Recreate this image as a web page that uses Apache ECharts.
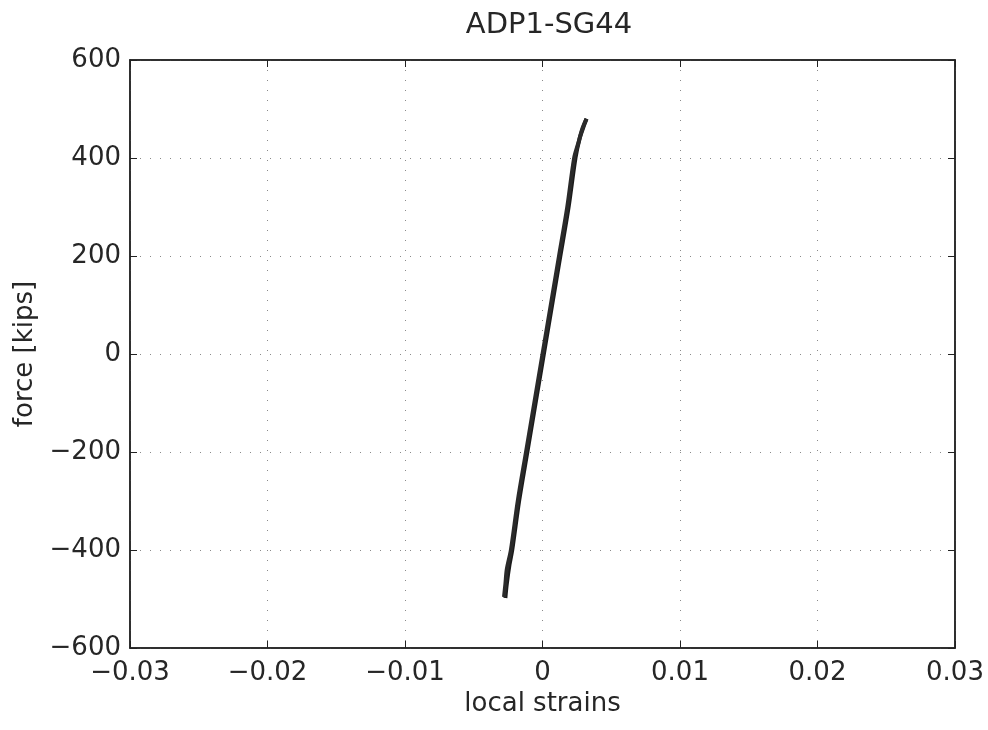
<!DOCTYPE html>
<html>
<head>
<meta charset="utf-8">
<script src="https://cdn.jsdelivr.net/npm/echarts@6/dist/echarts.min.js"></script>
<style>
html,body{margin:0;padding:0;background:#fff;}
#chart{width:988px;height:730px;}
</style>
</head>
<body>
<div id="chart"></div>
<script>
// Force vs. local strain, gauge SG44
const titleText = 'ADP1-SG44';
const xName = 'local strains';
const yName = 'force [kips]';
const xTicks = [-0.03, -0.02, -0.01, 0, 0.01, 0.02, 0.03];
const yTicks = [-600, -400, -200, 0, 200, 400, 600];

// loading branch: [strain, force]
const loadingBranch = [
  [-0.0027, -498], [-0.0026, -470], [-0.0024, -430], [-0.0022, -400],
  [-0.0017, -300], [-0.0011, -200], [-0.0005, -100], [0.0001, 0],
  [0.0007, 100], [0.0013, 200], [0.0019, 300], [0.0024, 400],
  [0.0027, 440], [0.0030, 465], [0.0032, 480]
];
// unloading branch: [strain, force]
const unloadingBranch = [
  [0.0032, 480], [0.0029, 460], [0.0026, 430], [0.0023, 400],
  [0.0018, 300], [0.0012, 200], [0.0006, 100], [0.0000, 0],
  [-0.0006, -100], [-0.0012, -200], [-0.0018, -300], [-0.0023, -400],
  [-0.0026, -440], [-0.0027, -470], [-0.0028, -496]
];

const fontFam = '"DejaVu Sans", "Liberation Sans", Arial, sans-serif';
const fmtNum = v => {
  const s = String(Math.abs(v) < 1e-12 ? 0 : v);
  return s.replace('-', '\u2212');
};

const chart = echarts.init(document.getElementById('chart'));
const dotted = { show: true, lineStyle: { color: '#8a8a8a', type: [1, 9], width: 1 } };
const tickIn = { show: true, inside: true, length: 7, lineStyle: { color: '#222', width: 1 } };
const frameLine = { show: true, onZero: false, lineStyle: { color: '#222', width: 1.5 } };
const textCol = '#262626';

chart.setOption({
  backgroundColor: '#fff',
  animation: false,
  title: {
    text: titleText, left: 544, top: 6, textAlign: 'center',
    textStyle: { fontFamily: fontFam, fontSize: 29, fontWeight: 'normal', color: textCol }
  },
  grid: {
    left: 130, right: 33, top: 60, bottom: 82, show: true,
    borderColor: '#222', borderWidth: 1.5, containLabel: false, outerBoundsMode: 'none'
  },
  xAxis: [{
    type: 'value', min: -0.03, max: 0.03, interval: 0.01,
    name: xName, nameLocation: 'middle', nameGap: 43,
    nameTextStyle: { fontFamily: fontFam, fontSize: 26, color: textCol },
    axisLine: frameLine,
    axisTick: tickIn,
    axisLabel: { fontFamily: fontFam, fontSize: 26, color: textCol, margin: 12, formatter: fmtNum },
    splitLine: dotted
  }, {
    type: 'value', min: -0.03, max: 0.03, interval: 0.01, position: 'top',
    axisLine: frameLine, axisTick: tickIn, axisLabel: { show: false }, splitLine: { show: false }
  }],
  yAxis: [{
    type: 'value', min: -600, max: 600, interval: 200,
    name: yName, nameLocation: 'middle', nameGap: 89,
    nameTextStyle: { fontFamily: fontFam, fontSize: 26, color: textCol },
    axisLine: frameLine,
    axisTick: tickIn,
    axisLabel: { fontFamily: fontFam, fontSize: 26, color: textCol, margin: 9, formatter: fmtNum },
    splitLine: dotted
  }, {
    type: 'value', min: -600, max: 600, interval: 200, position: 'right',
    axisLine: frameLine, axisTick: tickIn, axisLabel: { show: false }, splitLine: { show: false }
  }],
  series: [{
    type: 'line', data: loadingBranch, showSymbol: false, smooth: 0.3,
    lineStyle: { color: '#1b1b1b', width: 4 }
  }, {
    type: 'line', data: unloadingBranch, showSymbol: false, smooth: 0.3,
    lineStyle: { color: '#2a2a2a', width: 4 }
  }]
});
</script>
</body>
</html>
